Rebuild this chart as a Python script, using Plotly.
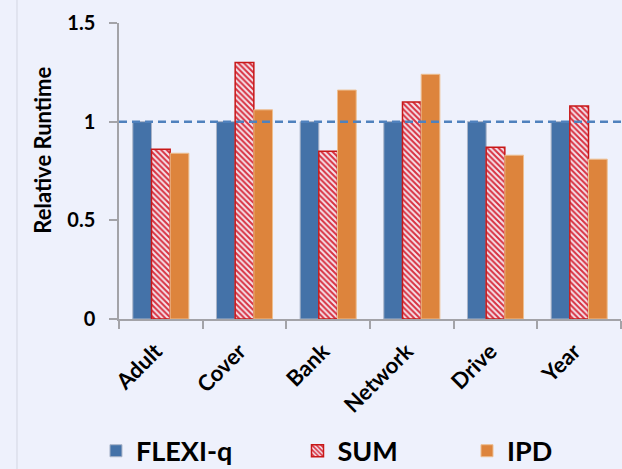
import plotly.graph_objects as go

# Relative runtime per dataset, normalised to FLEXI-q
datasets = ["Adult", "Cover", "Bank", "Network", "Drive", "Year"]
flexi_q = [1.0, 1.0, 1.0, 1.0, 1.0, 1.0]
sum_vals = [0.86, 1.30, 0.85, 1.10, 0.87, 1.08]
ipd_vals = [0.84, 1.06, 1.16, 1.24, 0.83, 0.81]
y_ticks = [0, 0.5, 1, 1.5]
y_tick_text = ["0", "0.5", "1", "1.5"]

BG = "#EEF1FC"
AXIS = "#A3A3A8"
FONT = "Lato"

fig = go.Figure()
fig.add_trace(go.Bar(
    x=datasets, y=flexi_q, name="FLEXI-q", legend="legend",
    marker=dict(color="#4472A8", line=dict(color="#A9B4C8", width=1)),
))
fig.add_trace(go.Bar(
    x=datasets, y=sum_vals, name="SUM", legend="legend2",
    marker=dict(
        color="#D42A2A",
        line=dict(color="#C81818", width=1.5),
        pattern=dict(shape="\\", fgcolor="#D83040", bgcolor="#F4E4EC",
                     size=4, solidity=0.5, fillmode="replace"),
    ),
))
fig.add_trace(go.Bar(
    x=datasets, y=ipd_vals, name="IPD", legend="legend3",
    marker=dict(color="#DD843C", line=dict(color="#EDBE90", width=1)),
))

# reference level at 1.0
fig.add_shape(type="line", xref="paper", x0=0, x1=1, yref="y", y0=1, y1=1,
              line=dict(color="#4F81BD", width=2.5, dash="8px,5px"), layer="above")
# thin vertical rule on the left edge of the page
fig.add_shape(type="line", xref="paper", x0=-0.2032, x1=-0.2032,
              yref="paper", y0=-0.6, y1=1.1,
              line=dict(color="#D3D6E2", width=1), layer="below")

# y-axis title, set slightly above the plot's vertical centre
fig.add_annotation(text="Relative Runtime", textangle=-90, showarrow=False,
                   xref="paper", yref="paper", x=-0.152, y=0.571,
                   xanchor="center", yanchor="middle",
                   font=dict(family=FONT, size=22, color="#000000", weight="bold"))

legend_common = dict(orientation="h", xref="container", yref="container",
                     yanchor="middle", y=0.038, xanchor="left",
                     bgcolor="rgba(0,0,0,0)",
                     font=dict(family=FONT, size=27, color="#000000", weight="bold"))

fig.update_layout(
    width=622, height=469,
    margin=dict(l=119, r=1, t=23, b=150),
    paper_bgcolor=BG, plot_bgcolor=BG,
    barmode="group", bargap=0.33, bargroupgap=0,
    font=dict(family=FONT, color="#000000"),
    showlegend=True,
    legend=dict(x=0.1543, **legend_common),
    legend2=dict(x=0.4783, **legend_common),
    legend3=dict(x=0.7508, **legend_common),
    xaxis=dict(
        type="category", showgrid=False, showline=True, linecolor=AXIS, linewidth=1.5,
        ticks="outside", tickson="boundaries", ticklen=8, tickcolor=AXIS, tickwidth=1.5,
        ticklabelstandoff=9, ticklabelshift=-5, automargin=False,
        tickangle=-45, tickfont=dict(family=FONT, size=22, color="#000000", weight="bold"),
        zeroline=False,
    ),
    yaxis=dict(
        range=[0, 1.5], tickvals=y_ticks, ticktext=y_tick_text,
        showgrid=False, showline=True, linecolor=AXIS, linewidth=1.5,
        ticks="outside", ticklen=8, tickcolor=AXIS, tickwidth=1.5,
        ticklabelstandoff=10, automargin=False,
        tickfont=dict(family=FONT, size=20, color="#000000", weight="bold"),
        zeroline=False,
    ),
)

fig.write_html("out.html")
